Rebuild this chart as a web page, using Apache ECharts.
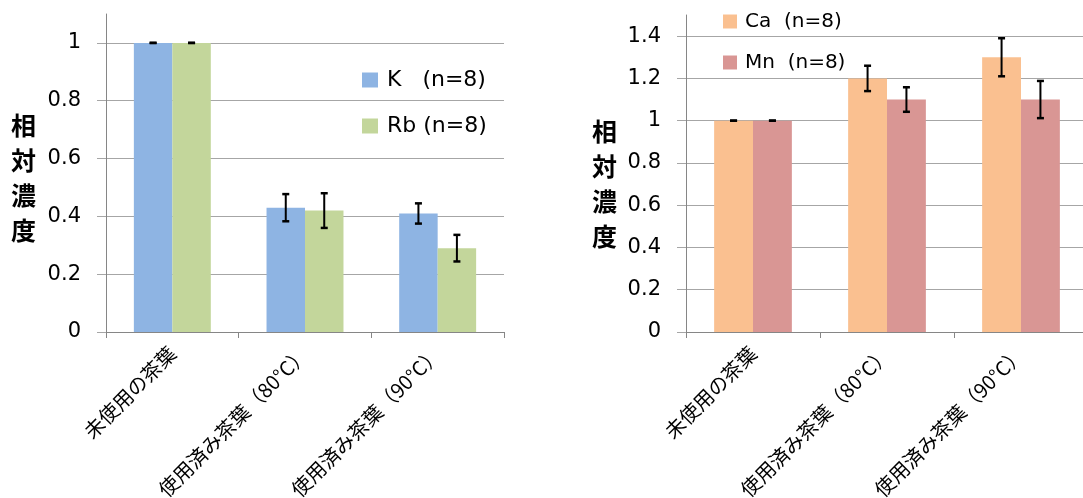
<!DOCTYPE html>
<html><head><meta charset="utf-8">
<script src="https://cdn.jsdelivr.net/npm/echarts@6/dist/echarts.min.js"></script>
<style>html,body{margin:0;padding:0;background:#fff}#c{width:1083px;height:498px}</style>
</head><body><div id="c"></div>
<script>
// ---- data ----
const categories = ['未使用の茶葉', '使用済み茶葉（80°C）', '使用済み茶葉（90°C）'];
const leftNames = ['K   (n=8)', 'Rb (n=8)'];
const kValues = [1, 0.43, 0.41];
const kErrors = [0, 0.047, 0.035];
const rbValues = [1, 0.42, 0.29];
const rbErrors = [0, 0.06, 0.046];
const rightNames = ['Ca  (n=8)', 'Mn  (n=8)'];
const caValues = [1, 1.2, 1.3];
const caErrors = [0, 0.06, 0.09];
const mnValues = [1, 1.1, 1.1];
const mnErrors = [0, 0.058, 0.088];
const yName = '相対濃度';

// ---- style ----
const LATIN = '"DejaVu Sans", "Noto Sans CJK JP", sans-serif';
const CJK = '"Noto Sans CJK JP", sans-serif';
const GAP = 0.42;
const AXIS = '#868686', GRID = '#a6a6a6';

function errData(vals, errs) { return vals.map((v, i) => [i, v, errs[i]]); }
function errRenderer(side) {
  return function (params, api) {
    const i = api.value(0), v = api.value(1), e = api.value(2);
    const band = api.size([1, 0])[0];
    const bw = band * (1 - GAP) / 2;
    const top = api.coord([i, v + e]);
    const bot = api.coord([i, v - e]);
    const x = top[0] + side * bw / 2;
    const c = 3.5;
    const st = { stroke: '#000', lineWidth: 2 };
    return { type: 'group', children: [
      { type: 'line', shape: { x1: x, y1: top[1], x2: x, y2: bot[1] }, style: st },
      { type: 'line', shape: { x1: x - c, y1: top[1], x2: x + c, y2: top[1] }, style: { stroke: '#000', lineWidth: 2.5 } },
      { type: 'line', shape: { x1: x - c, y1: bot[1], x2: x + c, y2: bot[1] }, style: { stroke: '#000', lineWidth: 2.5 } }
    ] };
  };
}
function xAxis(grid) {
  return {
    type: 'category', gridIndex: grid, data: categories,
    axisLine: { lineStyle: { color: AXIS, width: 1 } },
    axisTick: { show: true, length: 6, alignWithLabel: false, lineStyle: { color: AXIS } },
    axisLabel: { rotate: 45, interval: 0, margin: 18, fontSize: 20, fontFamily: CJK, color: '#000' },
    splitLine: { show: false }
  };
}
function yAxis(grid, max) {
  return {
    type: 'value', gridIndex: grid, min: 0, max: max, interval: 0.2,
    axisLine: { show: true, lineStyle: { color: AXIS, width: 1 } },
    axisTick: { show: true, length: 9, lineStyle: { color: GRID } },
    axisLabel: { margin: 25, fontSize: 21, fontFamily: LATIN, color: '#000', showMaxLabel: false },
    splitLine: { show: true, showMaxLine: false, lineStyle: { color: GRID, width: 1 } }
  };
}
function yTitle(left, top) {
  return { text: yName.split('').join('\n'), left: left, top: top, padding: 0,
    textStyle: { fontSize: 25, lineHeight: 35, fontWeight: 'bold', fontFamily: CJK, color: '#000' } };
}
function bar(name, data, color, xi) {
  return { type: 'bar', name: name, data: data, xAxisIndex: xi, yAxisIndex: xi,
    barGap: '0%', barCategoryGap: (GAP * 100) + '%', itemStyle: { color: color }, silent: true, animation: false };
}
function err(vals, errs, side, xi) {
  return { type: 'custom', data: errData(vals, errs), xAxisIndex: xi, yAxisIndex: xi,
    encode: { x: 0, y: 1 }, renderItem: errRenderer(side), z: 10, silent: true, animation: false };
}

const chart = echarts.init(document.getElementById('c'), null, { renderer: 'canvas' });
chart.setOption({
  animation: false,
  backgroundColor: '#fff',
  title: [yTitle(11, 108), yTitle(592, 114)],
  grid: [
    { left: 106, top: 14, right: 579, bottom: 166, containLabel: false, outerBoundsMode: 'none' },
    { left: 686, top: 15, right: -5, bottom: 166, containLabel: false, outerBoundsMode: 'none' }
  ],
  xAxis: [xAxis(0), xAxis(1)],
  yAxis: [yAxis(0, 1.1), yAxis(1, 1.5)],
  legend: [
    { data: leftNames, orient: 'vertical', left: 362, top: 69, padding: 0, itemWidth: 16, itemHeight: 15, itemGap: 24,
      icon: 'rect', selectedMode: false,
      textStyle: { fontFamily: LATIN, fontSize: 22, lineHeight: 22, color: '#000', padding: [0, 0, 0, 4] } },
    { data: rightNames, orient: 'vertical', left: 723, top: 11, padding: 0, itemWidth: 14, itemHeight: 14, itemGap: 20,
      icon: 'rect', selectedMode: false,
      textStyle: { fontFamily: LATIN, fontSize: 20, lineHeight: 21, color: '#000', padding: [0, 0, 0, 3] } }
  ],
  series: [
    bar(leftNames[0], kValues, '#8EB4E3', 0),
    bar(leftNames[1], rbValues, '#C3D69B', 0),
    bar(rightNames[0], caValues, '#FAC090', 1),
    bar(rightNames[1], mnValues, '#D99694', 1),
    err(kValues, kErrors, -1, 0),
    err(rbValues, rbErrors, 1, 0),
    err(caValues, caErrors, -1, 1),
    err(mnValues, mnErrors, 1, 1)
  ]
});
</script></body></html>
